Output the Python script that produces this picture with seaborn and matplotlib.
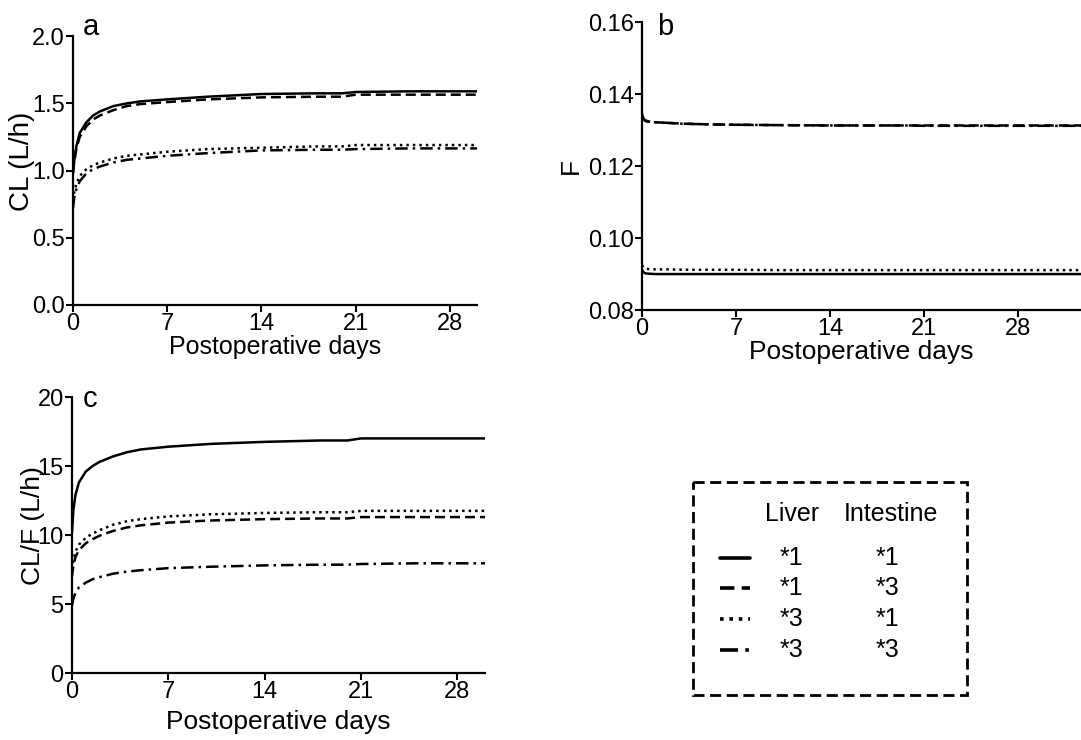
import pandas as pd
import matplotlib.pyplot as plt
import seaborn as sns
from matplotlib.patches import Rectangle

# Time points (postoperative days)
days = [0, 0.1, 0.25, 0.5, 1, 1.5, 2, 3, 4, 5, 7, 10, 14, 18, 20, 21, 25, 30, 33]

# Genotype groups (liver, intestine)
groups = ["*1/*1", "*1/*3", "*3/*1", "*3/*3"]
liver = ["*1", "*1", "*3", "*3"]
intestine = ["*1", "*3", "*1", "*3"]

# Panel a: CL (L/h)
cl_11 = [0.98, 1.08, 1.18, 1.28, 1.36, 1.41, 1.44, 1.48, 1.50, 1.515, 1.53, 1.55, 1.57, 1.575, 1.575, 1.585, 1.59, 1.59, 1.59]
cl_13 = [0.98, 1.07, 1.16, 1.25, 1.33, 1.38, 1.41, 1.45, 1.48, 1.495, 1.51, 1.53, 1.545, 1.55, 1.55, 1.565, 1.565, 1.565, 1.565]
cl_31 = [0.78, 0.84, 0.90, 0.96, 1.01, 1.04, 1.06, 1.09, 1.11, 1.12, 1.14, 1.16, 1.17, 1.18, 1.18, 1.19, 1.19, 1.19, 1.19]
cl_33 = [0.72, 0.80, 0.86, 0.92, 0.98, 1.01, 1.03, 1.06, 1.08, 1.09, 1.11, 1.13, 1.15, 1.155, 1.155, 1.16, 1.165, 1.165, 1.165]

# Panel b: F
f_11 = [0.0912, 0.0905, 0.0902, 0.0901, 0.090, 0.090, 0.090, 0.090, 0.090, 0.090, 0.090, 0.090, 0.090, 0.090, 0.090, 0.090, 0.090, 0.090, 0.090]
f_13 = [0.1340, 0.1330, 0.1325, 0.1323, 0.1322, 0.1321, 0.1320, 0.1318, 0.1317, 0.1316, 0.1315, 0.1314, 0.1313, 0.1313, 0.1313, 0.1313, 0.1313, 0.1313, 0.1313]
f_31 = [0.0925, 0.0918, 0.0915, 0.0914, 0.0913, 0.0913, 0.0913, 0.0912, 0.0912, 0.0912, 0.0912, 0.0911, 0.0911, 0.0911, 0.0911, 0.0911, 0.0911, 0.0911, 0.0911]
f_33 = [0.1345, 0.1332, 0.1327, 0.1324, 0.1322, 0.1321, 0.1320, 0.1318, 0.1317, 0.1316, 0.1315, 0.1314, 0.1313, 0.1313, 0.1313, 0.1312, 0.1312, 0.1312, 0.1312]

# Panel c: CL/F (L/h)
clf_11 = [10.2, 11.8, 12.9, 13.8, 14.6, 15.0, 15.3, 15.7, 16.0, 16.2, 16.4, 16.6, 16.75, 16.85, 16.85, 17.0, 17.0, 17.0, 17.0]
clf_13 = [7.0, 7.8, 8.4, 8.9, 9.4, 9.7, 9.95, 10.3, 10.55, 10.7, 10.9, 11.05, 11.15, 11.2, 11.2, 11.3, 11.3, 11.3, 11.3]
clf_31 = [7.5, 8.2, 8.8, 9.3, 9.8, 10.1, 10.35, 10.75, 11.0, 11.15, 11.35, 11.5, 11.6, 11.65, 11.65, 11.75, 11.75, 11.75, 11.75]
clf_33 = [4.9, 5.4, 5.8, 6.2, 6.55, 6.8, 6.95, 7.2, 7.35, 7.45, 7.6, 7.7, 7.8, 7.85, 7.85, 7.9, 7.95, 7.95, 7.95]

sns.set_style("ticks")
plt.rcParams["font.family"] = ["Liberation Sans", "DejaVu Sans"]
plt.rcParams["font.size"] = 17
for key in ["text.color", "axes.labelcolor", "xtick.color", "ytick.color", "axes.edgecolor"]:
    plt.rcParams[key] = "black"

dash_map = {"*1/*1": "", "*1/*3": (4, 2), "*3/*1": (1, 1.6), "*3/*3": (5, 2, 1, 2)}


def long_frame(series):
    rows = []
    for g, vals in zip(groups, series):
        for d, v in zip(days, vals):
            rows.append({"day": d, "value": v, "group": g})
    return pd.DataFrame(rows)


def style_axis(ax, xmax, ylim, yticks, yticklabels, ylabel, xlabel_size, xlabelpad,
               ylabel_size, ylabel_xy):
    ax.set_xlim(0, xmax)
    ax.set_ylim(*ylim)
    ax.set_xticks([0, 7, 14, 21, 28])
    ax.set_yticks(yticks)
    ax.set_yticklabels(yticklabels)
    ax.set_xlabel("Postoperative days", fontsize=xlabel_size, labelpad=xlabelpad)
    ax.set_ylabel(ylabel, fontsize=ylabel_size)
    ax.yaxis.set_label_coords(*ylabel_xy)
    for side in ["top", "right"]:
        ax.spines[side].set_visible(False)
    for side in ["left", "bottom"]:
        ax.spines[side].set_linewidth(1.6)
    ax.tick_params(width=1.5, length=5, labelsize=17, pad=1)


fig = plt.figure(figsize=(10.81, 7.40), dpi=100)

ax_a = fig.add_axes([0.0675, 0.588, 0.3735, 0.363])
ax_b = fig.add_axes([0.594, 0.581, 0.406, 0.389])
ax_c = fig.add_axes([0.0666, 0.0905, 0.382, 0.373])

panels = [
    (ax_a, [cl_11, cl_13, cl_31, cl_33]),
    (ax_b, [f_11, f_13, f_31, f_33]),
    (ax_c, [clf_11, clf_13, clf_31, clf_33]),
]
for ax, series in panels:
    df = long_frame(series)
    sns.lineplot(data=df, x="day", y="value", style="group", dashes=dash_map,
                 color="black", linewidth=1.8, legend=False, ax=ax)

style_axis(ax_a, 30, (0, 2.0), [0.0, 0.5, 1.0, 1.5, 2.0], ["0.0", "0.5", "1.0", "1.5", "2.0"],
           "CL (L/h)", 18, 0, 20, (-0.094, 0.535))
style_axis(ax_b, 32.7, (0.08, 0.16), [0.08, 0.10, 0.12, 0.14, 0.16],
           ["0.08", "0.10", "0.12", "0.14", "0.16"], "F", 19, 0, 19, (-0.134, 0.5))
style_axis(ax_c, 30, (0, 20), [0, 5, 10, 15, 20], ["0", "5", "10", "15", "20"],
           "CL/F (L/h)", 19, 5, 19, (-0.065, 0.536))

# Overlay in figure pixels for panel letters and the legend box
over = fig.add_axes([0, 0, 1, 1], facecolor="none")
over.set_xlim(0, 1081)
over.set_ylim(740, 0)
over.axis("off")
for letter, x, y in [("a", 83, 27), ("b", 657, 27), ("c", 83, 399)]:
    over.text(x, y, letter, fontsize=21, ha="left", va="center")

over.add_patch(Rectangle((693, 482), 274, 213, fill=False, edgecolor="black",
                         linewidth=2, linestyle=(0, (4, 2))))
over.text(792, 514, "Liver", ha="center", va="center", fontsize=18)
over.text(891, 514, "Intestine", ha="center", va="center", fontsize=18)
row_y = [558, 588, 619, 650]
for g, l, i, y in zip(groups, liver, intestine, row_y):
    d = dash_map[g]
    ls = "-" if d == "" else (0, d)
    over.plot([720, 750], [y, y], color="black", linewidth=2.6, linestyle=ls)
    over.text(791, y, l, ha="center", va="center", fontsize=18)
    over.text(887, y, i, ha="center", va="center", fontsize=18)

fig.savefig("out.png", dpi=100)
